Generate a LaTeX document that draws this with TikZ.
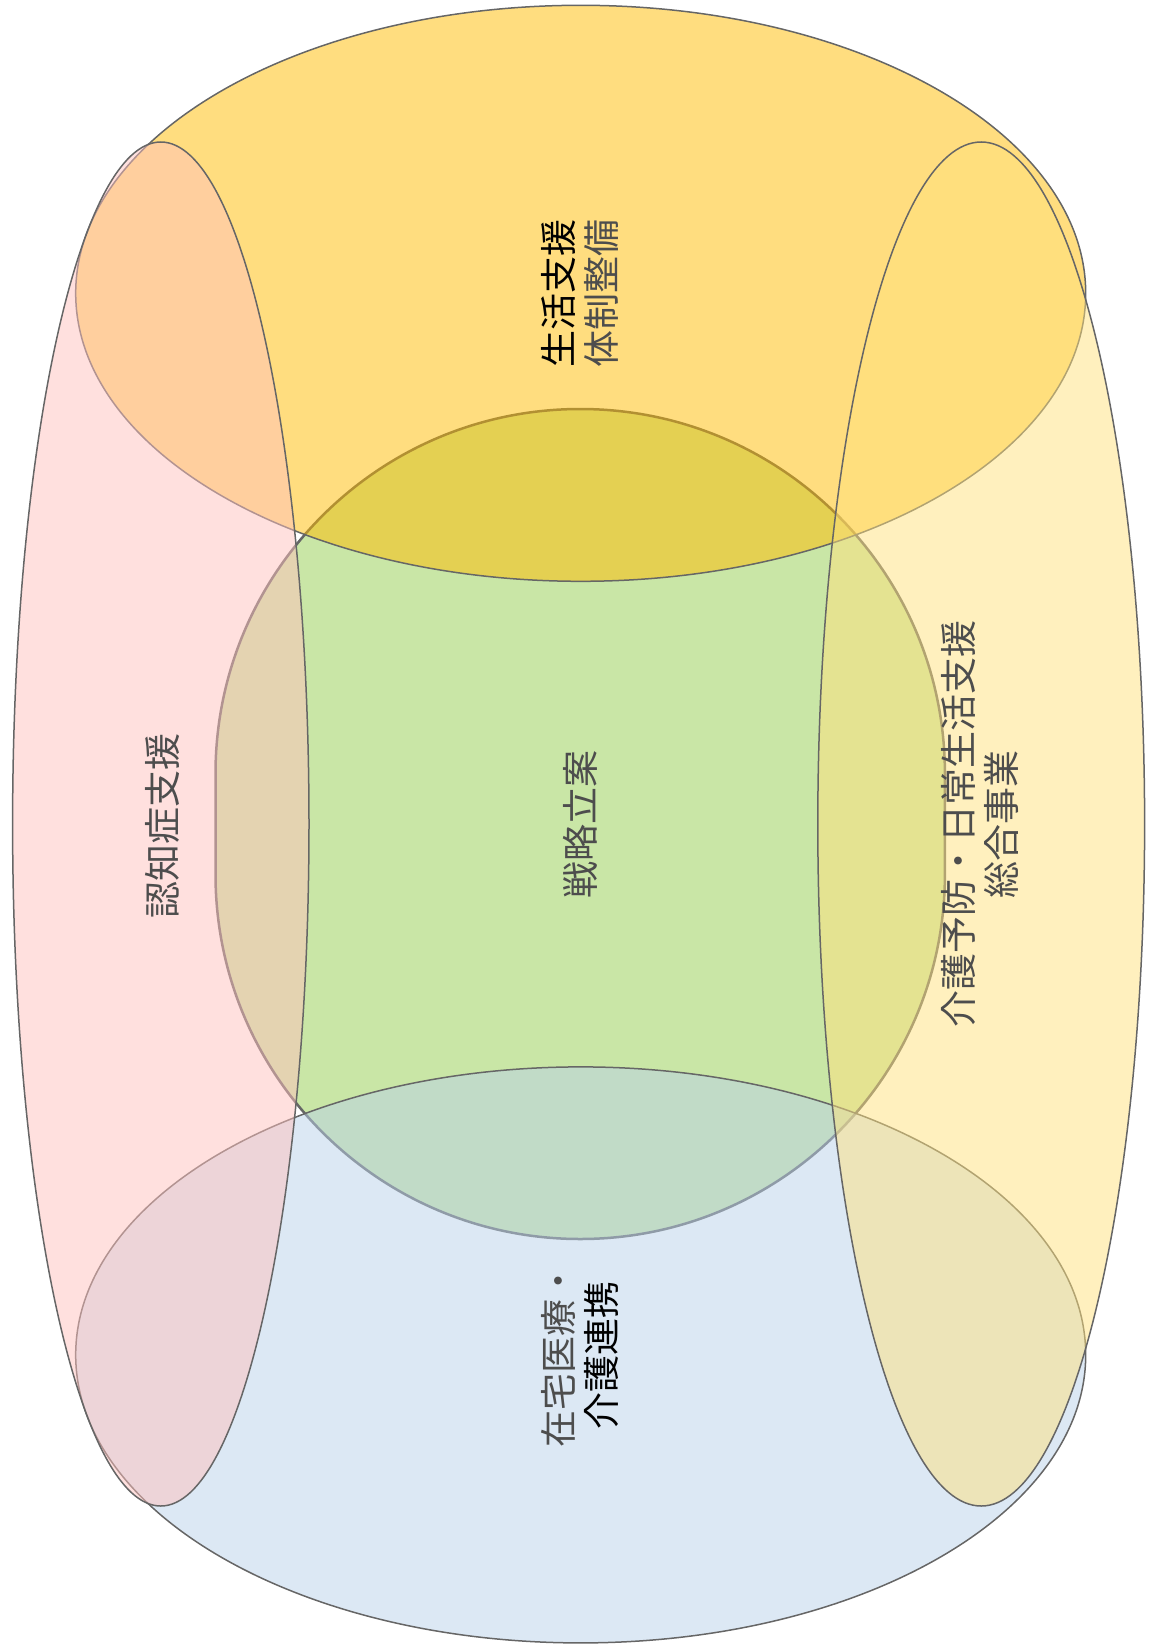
\documentclass[tikz,border=0pt]{standalone}
\usepackage{fontspec}
\setmainfont{Noto Sans CJK JP}
\definecolor{edgegray}{HTML}{666666}
\definecolor{txtgray}{HTML}{4D4D4D}
\definecolor{vgreen}{RGB}{147,205,77}
\definecolor{vtop}{RGB}{255,187,0}
\definecolor{vblue}{RGB}{185,209,233}
\definecolor{vpink}{RGB}{255,193,189}
\definecolor{vright}{RGB}{255,225,125}
\begin{document}
\begin{tikzpicture}[x=1pt,y=-1pt,
	area/.style={draw=edgegray,line width=1.5pt,fill opacity=.5},
	lbl/.style={rotate=90,align=center,text=txtgray,font=\fontsize{37}{43.7}\selectfont}]
	\useasboundingbox (0,0) rectangle (1152,1648);
	\draw[area,fill=vgreen,line width=2.5pt] (215.5,874.3)--(215.5,773.7) arc[start angle=180,end angle=360,radius=364.7]--(944.9,874.3) arc[start angle=0,end angle=180,radius=364.7]--cycle;
	\foreach \x/\y/\rx/\ry/\c in {580.7/293.3/505/288/vtop,580.7/1354.9/505/288/vblue,160.8/824/148.2/682/vpink,981.2/824/163.4/682/vright}\draw[area,fill=\c] (\x,\y) ellipse[x radius=\rx,y radius=\ry];
	\path (580,293) node[lbl](seikatsu){\textcolor{black}{生活支援}\\体制整備}
		(580,1355) node[lbl](zaitaku){在宅医療・\\\textcolor{black}{介護連携}}
		(162,826) node[lbl](ninchi){認知症支援}
		(580,824) node[lbl](senryaku){戦略立案}
		(980,824) node[lbl](kaigo){介護予防・日常生活支援\\総合事業};
\end{tikzpicture}
\end{document}
